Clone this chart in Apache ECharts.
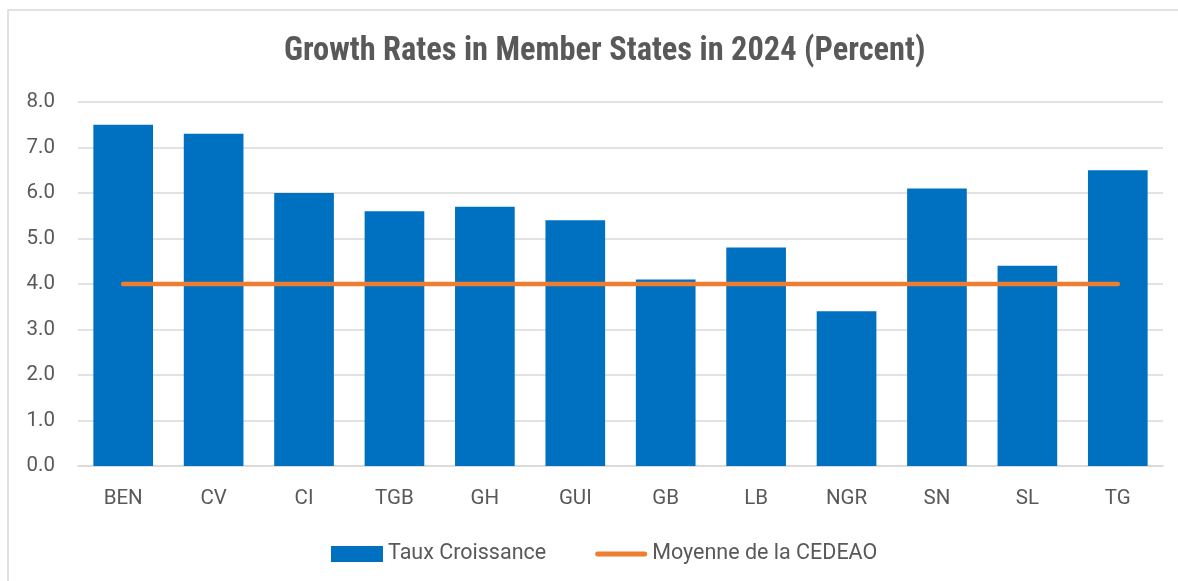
<!DOCTYPE html>
<html><head><meta charset="utf-8">
<script src="https://cdn.jsdelivr.net/npm/echarts@6/dist/echarts.min.js"></script>
<style>html,body{margin:0;padding:0;background:#fff}#c{width:1178px;height:581px}</style>
</head><body><div id="c"></div>
<script>
const categories = ['BEN','CV','CI','TGB','GH','GUI','GB','LB','NGR','SN','SL','TG'];
const growthRates = [7.5,7.3,6.0,5.6,5.7,5.4,4.1,4.8,3.4,6.1,4.4,6.5];
const cedeaoAverage = [4.0,4.0,4.0,4.0,4.0,4.0,4.0,4.0,4.0,4.0,4.0,4.0];
const chart = echarts.init(document.getElementById('c'));
chart.setOption({
  animation:false,
  backgroundColor:'#fff',
  graphic:[{type:'rect',shape:{x:8,y:10,width:1200,height:600},style:{fill:'none',stroke:'#d9d9d9',lineWidth:1.5}}],
  title:{text:'Growth Rates in Member States in 2024 (Percent)',left:279,top:31,
    textStyle:{fontFamily:'Liberation Sans Narrow, Roboto Condensed, Roboto',fontWeight:'bold',fontSize:32.4,color:'#595959'}},
  legend:{bottom:11,left:326,itemGap:49,itemWidth:52,itemHeight:16,symbolKeepAspect:true,
    textStyle:{fontFamily:'Liberation Sans Narrow, Roboto',fontSize:21.5,color:'#595959'},
    data:[{name:'Taux Croissance',icon:'rect'},
          {name:'Moyenne de la CEDEAO',icon:'path://M2.5,0 L49.5,0 A2.5,2.5 0 0 1 49.5,5 L2.5,5 A2.5,2.5 0 0 1 2.5,0 Z',itemStyle:{color:'#ED7D31'}}]},
  grid:{left:78,right:15,top:102,bottom:115,containLabel:false},
  xAxis:{type:'category',data:categories,
    axisLine:{lineStyle:{color:'#d9d9d9',width:1.5}},axisTick:{show:false},
    axisLabel:{color:'#595959',fontFamily:'Roboto',fontSize:20.5,margin:22}},
  yAxis:{type:'value',min:0,max:8,interval:1,
    axisLabel:{color:'#595959',fontFamily:'Roboto',fontSize:20.5,margin:23,formatter:v=>v.toFixed(1)},
    splitLine:{lineStyle:{color:'#d9d9d9',width:1.5}},axisLine:{show:false},axisTick:{show:false}},
  series:[
    {name:'Taux Croissance',type:'bar',data:growthRates,barCategoryGap:'34%',
      itemStyle:{color:'#0070C0'}},
    {name:'Moyenne de la CEDEAO',type:'line',data:cedeaoAverage,symbol:'none',
      lineStyle:{color:'#ED7D31',width:4.5,cap:'round'},itemStyle:{color:'#ED7D31'}}
  ]
});
</script></body></html>
